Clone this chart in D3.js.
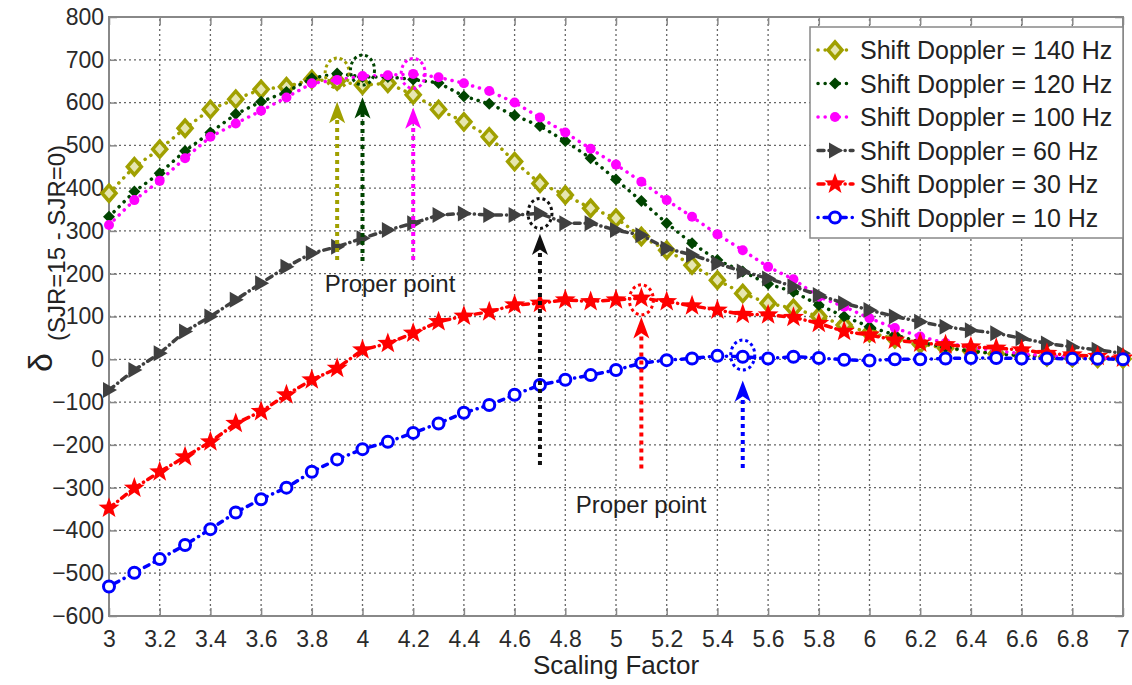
<!DOCTYPE html>
<html>
<head>
<meta charset="utf-8">
<script src="https://cdn.jsdelivr.net/npm/d3@7"></script>
<style>
  body { margin: 0; background: #fff; }
  svg { font-family: Arial, "Liberation Sans", sans-serif; }
</style>
</head>
<body>
<div id="chart"></div>
<script>
// scaling factor values
const scaling = [3.0, 3.1, 3.2, 3.3, 3.4, 3.5, 3.6, 3.7, 3.8, 3.9, 4.0, 4.1, 4.2, 4.3, 4.4, 4.5,
  4.6, 4.7, 4.8, 4.9, 5.0, 5.1, 5.2, 5.3, 5.4, 5.5, 5.6, 5.7, 5.8, 5.9, 6.0, 6.1, 6.2, 6.3, 6.4,
  6.5, 6.6, 6.7, 6.8, 6.9, 7.0];

const shift140 = [388, 450, 491, 540, 584, 608, 631, 637, 654, 650, 641, 645, 618, 584, 555, 520,
  462, 411, 384, 353, 330, 287, 255, 220, 185, 154, 131, 119, 100, 80, 62, 48, 36, 26, 19, 13, 9, 6, 4, 2, 1];
const shift120 = [333, 392, 435, 487, 530, 573, 602, 625, 657, 668, 660, 660, 654, 646, 615, 597,
  570, 545, 510, 470, 420, 370, 318, 271, 232, 205, 176, 158, 127, 100, 76, 57, 40, 28, 19, 13, 9, 6, 4, 2, 1];
const shift100 = [314, 372, 417, 470, 520, 551, 581, 612, 645, 653, 662, 664, 667, 659, 645, 627,
  600, 565, 530, 492, 455, 415, 372, 333, 292, 255, 216, 187, 146, 123, 96, 73, 53, 38, 28, 20, 13, 8, 5, 3, 1];
const shift60 = [-72, -25, 14, 65, 100, 139, 178, 216, 248, 263, 283, 302, 318, 337, 341, 337,
  337, 341, 318, 318, 302, 290, 259, 244, 224, 205, 189, 170, 150, 131, 115, 100, 88, 76, 68, 61, 49, 37, 29, 22, 14];
const shift30 = [-348, -301, -263, -228, -193, -150, -122, -83, -48, -21, 22, 37, 61, 88, 101, 111,
  127, 131, 139, 135, 139, 143, 135, 125, 115, 105, 104, 98, 84, 65, 57, 45, 38, 34, 29, 26, 22, 14, 10, 7, 3];
const shift10 = [-531, -499, -467, -434, -397, -358, -327, -300, -263, -234, -210, -193, -172, -150, -125, -107,
  -83, -60, -48, -37, -25, -9, -2, 2, 8, 6, 2, 6, 3, -1, -3, 0, 0, 2, 3, 3, 2, 2, 1, 1, 0];

const legendLabels = ["Shift Doppler = 140 Hz", "Shift Doppler = 120 Hz", "Shift Doppler = 100 Hz",
  "Shift Doppler = 60 Hz", "Shift Doppler = 30 Hz", "Shift Doppler = 10 Hz"];

const xTicks = [3, 3.2, 3.4, 3.6, 3.8, 4, 4.2, 4.4, 4.6, 4.8, 5, 5.2, 5.4, 5.6, 5.8, 6, 6.2, 6.4, 6.6, 6.8, 7];
const yTicks = [-600, -500, -400, -300, -200, -100, 0, 100, 200, 300, 400, 500, 600, 700, 800];

// "proper point" markers: x, circled value, arrow tip value, arrow foot value
const properX = [3.9, 4.0, 4.2, 4.7, 5.1, 5.5];
const properCircle = [669, 676, 668, 341, 139, 10];
const properTip = [595, 606, 582, 287, 92, -56];
const properFoot = [232, 230, 232, -247, -255, -254];

const width = 1132, height = 685;
const svg = d3.select("#chart").append("svg")
  .attr("width", width)
  .attr("height", height);

const x = d3.scaleLinear().domain([3, 7]).range([109, 1123]);
const y = d3.scaleLinear().domain([-600, 800]).range([616, 17]);

// series styles
const series = [
  { values: shift140, color: "#a0a000", marker: "diamondOpen", dash: "0.1,7" },
  { values: shift120, color: "#004400", marker: "diamond", dash: "0.1,7" },
  { values: shift100, color: "#ff00ff", marker: "dot", dash: "0.1,7" },
  { values: shift60, color: "#404040", marker: "triangle", dash: "6,5,0.1,5" },
  { values: shift30, color: "#ff0000", marker: "star", dash: "6,5,0.1,5" },
  { values: shift10, color: "#0000ff", marker: "circle", dash: "0.1,6,5,6" }
];

// grid
const grid = svg.append("g").attr("stroke", "#666").attr("stroke-width", 1.3)
  .attr("stroke-dasharray", "2,3");
xTicks.forEach(t => {
  grid.append("line").attr("x1", x(t)).attr("x2", x(t)).attr("y1", y(-600)).attr("y2", y(800));
});
yTicks.forEach(t => {
  grid.append("line").attr("x1", x(3)).attr("x2", x(7)).attr("y1", y(t)).attr("y2", y(t));
});

// axes
const axisLeft = svg.append("g")
  .attr("transform", `translate(${x(3)},0)`)
  .call(d3.axisLeft(y).tickValues(yTicks).tickSize(-8).tickPadding(5));
const axisBottom = svg.append("g")
  .attr("transform", `translate(0,${y(-600)})`)
  .call(d3.axisBottom(x).tickValues(xTicks).tickSize(-8).tickPadding(15)
    .tickFormat(d => String(+d.toFixed(1))));
svg.append("g")
  .attr("transform", `translate(${x(7)},0)`)
  .call(d3.axisRight(y).tickValues(yTicks).tickSize(-8).tickFormat(""));
svg.append("g")
  .attr("transform", `translate(0,${y(800)})`)
  .call(d3.axisTop(x).tickValues(xTicks).tickSize(-8).tickFormat(""));

svg.selectAll(".domain").remove();
svg.selectAll(".tick line").attr("stroke", "#888").attr("stroke-width", 1.5);
[axisLeft, axisBottom].forEach(a => a.selectAll("text")
  .style("font-size", "23px").attr("fill", "#2a2a2a").style("font-family", "Arial, 'Liberation Sans', sans-serif"));

svg.append("rect")
  .attr("x", x(3)).attr("y", y(800))
  .attr("width", x(7) - x(3)).attr("height", y(-600) - y(800))
  .attr("fill", "none").attr("stroke", "#888").attr("stroke-width", 2);

// marker drawing
function starPath(R, r) {
  let p = [];
  for (let i = 0; i < 10; i++) {
    const a = -Math.PI / 2 + i * Math.PI / 5;
    const rad = i % 2 === 0 ? R : r;
    p.push([rad * Math.cos(a), rad * Math.sin(a)]);
  }
  return "M" + p.map(d => d.join(",")).join("L") + "Z";
}

function drawMarker(g, type, color) {
  if (type === "diamondOpen") {
    g.append("path").attr("d", "M0,-8L7,0L0,8L-7,0Z")
      .attr("fill", "#e6e6b0").attr("stroke", color).attr("stroke-width", 3.5);
  } else if (type === "diamond") {
    g.append("path").attr("d", "M0,-6L6,0L0,6L-6,0Z").attr("fill", color);
  } else if (type === "dot") {
    g.append("circle").attr("r", 5).attr("fill", color);
  } else if (type === "triangle") {
    g.append("path").attr("d", "M-6,-8L8,0L-6,8Z").attr("fill", color);
  } else if (type === "star") {
    g.append("path").attr("d", starPath(11, 4.5)).attr("fill", color);
  } else if (type === "circle") {
    g.append("circle").attr("r", 5.5).attr("fill", "#fff")
      .attr("stroke", color).attr("stroke-width", 3);
  }
}

const line = d3.line()
  .x((d, i) => x(scaling[i]))
  .y(d => y(d));

series.forEach(s => {
  svg.append("path")
    .datum(s.values)
    .attr("d", line)
    .attr("fill", "none")
    .attr("stroke", s.color)
    .attr("stroke-width", 3.5)
    .attr("stroke-linecap", "round")
    .attr("stroke-dasharray", s.dash);
  s.values.forEach((v, i) => {
    const g = svg.append("g").attr("transform", `translate(${x(scaling[i])},${y(v)})`);
    drawMarker(g, s.marker, s.color);
  });
});

// proper point arrows
const arrowColors = ["#a0a000", "#004400", "#ff00ff", "#111111", "#ff0000", "#0000ff"];
properX.forEach((px, i) => {
  const c = arrowColors[i];
  const cx = x(px);
  svg.append("line")
    .attr("x1", cx).attr("x2", cx)
    .attr("y1", y(properFoot[i])).attr("y2", y(properTip[i]) + 12)
    .attr("stroke", c).attr("stroke-width", 4).attr("stroke-dasharray", "4,4");
  const ty = y(properTip[i]);
  svg.append("path")
    .attr("d", `M${cx},${ty}L${cx + 6},${ty + 16}L${cx},${ty + 12}L${cx - 6},${ty + 16}Z`)
    .attr("fill", c).attr("stroke", c).attr("stroke-width", 2);
  svg.append("ellipse")
    .attr("cx", cx).attr("cy", y(properCircle[i]))
    .attr("rx", 12).attr("ry", 15)
    .attr("fill", "none").attr("stroke", c).attr("stroke-width", 3)
    .attr("stroke-dasharray", "3,3");
});

svg.append("text").attr("x", 390).attr("y", 292).attr("text-anchor", "middle")
  .style("font-size", "24px").attr("fill", "#222").text("Proper point");
svg.append("text").attr("x", 641).attr("y", 513).attr("text-anchor", "middle")
  .style("font-size", "24px").attr("fill", "#222").text("Proper point");

// legend
const legend = svg.append("g");
legend.append("rect")
  .attr("x", 810).attr("y", 27).attr("width", 313).attr("height", 211)
  .attr("fill", "#fff").attr("stroke", "#888").attr("stroke-width", 1.5);
series.forEach((s, i) => {
  const cy = 50 + i * 33.5;
  legend.append("line")
    .attr("x1", 818).attr("x2", 853).attr("y1", cy).attr("y2", cy)
    .attr("stroke", s.color).attr("stroke-width", 3.5)
    .attr("stroke-linecap", "round").attr("stroke-dasharray", s.dash);
  drawMarker(legend.append("g").attr("transform", `translate(835,${cy})`), s.marker, s.color);
  legend.append("text")
    .attr("x", 860).attr("y", cy + 9)
    .style("font-size", "25px").attr("fill", "#222")
    .text(legendLabels[i]);
});

// axis titles
svg.append("text")
  .attr("x", x(5)).attr("y", 674).attr("text-anchor", "middle")
  .style("font-size", "26px").attr("fill", "#222").text("Scaling Factor");

svg.append("text")
  .attr("transform", "translate(52,372) rotate(-90)")
  .style("font-size", "34px").attr("fill", "#222").text("δ");
svg.append("text")
  .attr("transform", "translate(65,341) rotate(-90)")
  .style("font-size", "24px").attr("fill", "#222").text("(SJR=15 - SJR=0)");
</script>
</body>
</html>
